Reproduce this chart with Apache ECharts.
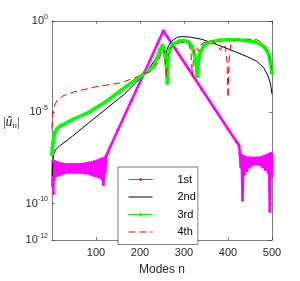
<!DOCTYPE html>
<html>
<head>
<meta charset="utf-8">
<script src="https://cdn.jsdelivr.net/npm/echarts@6/dist/echarts.min.js"></script>
<style>html,body{margin:0;padding:0;background:#fff}#c{width:300px;height:281px}</style>
</head>
<body>
<div id="c"></div>
<script>
// [mode n, |u_n|]
const first = [
 [1,1.0e-9],[2,2.2e-8],[3,3.5e-10],[4,2.0e-8],[5,2.0e-9],[7,2.0e-8],[9,3.2e-9],[12,1.8e-8],[15,3.5e-9],
 [18,1.6e-8],[21,4.0e-9],[24,1.5e-8],[27,4.5e-9],[30,1.4e-8],[33,5.0e-9],[36,1.4e-8],[39,5.0e-9],
 [42,1.4e-8],[45,5.0e-9],[48,1.4e-8],[51,5.0e-9],[54,1.4e-8],[57,5.0e-9],[60,1.4e-8],[63,5.0e-9],
 [66,1.4e-8],[69,5.0e-9],[72,1.5e-8],[75,4.5e-9],[78,1.6e-8],[81,4.5e-9],[84,1.7e-8],[87,4.0e-9],
 [90,1.8e-8],[93,3.5e-9],[96,2.0e-8],[99,3.2e-9],[102,2.2e-8],[105,2.8e-9],[108,2.5e-8],[111,2.5e-9],
 [113,2.8e-8],[115,2.2e-9],[117,1.1e-9],[119,3.2e-8],[121,5.0e-9],[123,4.0e-8],
 [125,5.0e-8],[150,1.1e-6],[180,4.1e-5],[210,1.5e-3],[240,5.9e-2],[253,0.29],
 [280,3.0e-2],[310,2.4e-3],[340,1.9e-4],[370,1.5e-5],[400,1.2e-6],[420,2.3e-7],[425,1.5e-7],
 [427,5.6e-8],[429,1.0e-8],[431,4.5e-8],[433,1.5e-10],[435,4.0e-8],[437,4.0e-9],[440,3.5e-8],
 [443,6.3e-9],[446,3.2e-8],[449,1.0e-8],[452,3.2e-8],[455,1.3e-8],[458,3.2e-8],[461,1.4e-8],
 [464,3.2e-8],[467,1.4e-8],[470,3.2e-8],[473,1.3e-8],[476,3.5e-8],[479,1.0e-8],[482,4.0e-8],
 [485,7.1e-9],[488,4.5e-8],[491,5.0e-9],[493,5.0e-8],[495,3.6e-11],[497,5.6e-8],[499,3.2e-9],[500,5.0e-8]
];
const second = [
 [1,3.2e-9],[2,2.0e-8],[4,5.0e-8],[8,8.9e-8],[17,1.4e-7],[47,5.0e-7],[98,5.0e-6],[165,1.0e-4],
 [216,1.7e-3],[235,7.9e-3],[245,2.5e-2],[251,5.0e-2],[254,2.5e-2],[257,9.3e-3],[260,2.0e-2],
 [265,4.5e-2],[272,7.9e-2],[285,0.13],[297,0.14],[315,0.13],[340,0.1],[370,5.6e-2],[400,3.0e-2],
 [444,1.1e-2],[465,6.3e-3],[481,2.8e-3],[490,1.1e-3],[495,5.0e-4],[498,2.2e-4],[500,1.0e-4]
];
const third = [
 [0,5.0e-8],[1,1.0e-7],[2,2.0e-7],[4,4.5e-7],[7,7.9e-7],[12,1.3e-6],[20,1.8e-6],[47,4.0e-6],
 [84,1.0e-5],[120,3.5e-5],[157,1.6e-4],[200,8.9e-4],[231,3.2e-3],[242,1.3e-2],[246,2.8e-2],
 [251,4.5e-2],[254,3.2e-2],[257,1.3e-2],[260,3.5e-3],[262,4.0e-4],[264,1.0e-2],[267,2.5e-2],
 [275,5.6e-2],[290,7.9e-2],[300,8.3e-2],[310,7.1e-2],[318,4.0e-2],[324,1.3e-2],[328,4.0e-3],
 [330,9.3e-4],[332,4.5e-3],[336,1.6e-2],[345,4.5e-2],[360,7.1e-2],[380,8.9e-2],[400,9.5e-2],
 [420,9.3e-2],[440,8.5e-2],[460,7.1e-2],[475,5.0e-2],[485,3.2e-2],[492,1.6e-2],[496,6.3e-3],[500,1.4e-3]
];
const fourth = [
 [0,1.3e-6],[1,4.0e-6],[3,1.3e-5],[6,2.5e-5],[12,4.5e-5],[25,7.9e-5],[50,1.3e-4],[100,2.5e-4],
 [157,4.1e-4],[200,1.0e-3],[224,1.7e-3],[240,5.0e-3],[248,1.6e-2],[252,3.2e-2],[256,1.6e-2],
 [258,3.2e-3],[260,9.3e-4],[262,6.3e-3],[266,2.5e-2],[275,5.0e-2],[290,6.3e-2],[305,7.1e-2],
 [312,5.0e-2],[316,1.6e-2],[319,8.9e-4],[322,1.3e-2],[326,4.0e-2],[333,2.2e-2],[340,5.6e-2],
 [350,7.1e-2],[365,7.9e-2],[375,5.0e-2],[383,2.5e-2],[388,5.0e-2],[394,4.0e-2],[398,5.0e-3],
 [400,6.3e-5],[402,5.0e-3],[406,5.0e-2],[415,8.9e-2],[430,0.1],[450,0.1],[465,9.5e-2],[478,6.3e-2],
 [487,3.2e-2],[493,1.6e-2],[497,6.3e-3],[500,2.2e-3]
];
const seriesNames = ['1st','2nd','3rd','4th'];
const seriesColors = ['#ff00ff','#000000','#00ff00','#ff0000'];
const xTicks = [100,200,300,400,500];
const yTicks = [1e-12,1e-10,1e-5,1];

const axisColor = '#262626';
const font = 'Liberation Sans';
const chart = echarts.init(document.getElementById('c'), null, {renderer:'canvas'});
const yFmt = v => '{b|10}{s|' + Math.round(Math.log10(v)) + '}';
const baseX = {
  type:'value', min:0, max:500, interval:100,
  axisLine:{show:true, onZero:false, lineStyle:{color:axisColor, width:0.6}},
  axisTick:{show:true, inside:true, length:3, customValues:xTicks, lineStyle:{color:axisColor, width:0.6}},
  splitLine:{show:false}
};
const baseY = {
  type:'log', logBase:10, min:1e-12, max:1,
  axisLine:{show:true, onZero:false, lineStyle:{color:axisColor, width:0.6}},
  axisTick:{show:true, inside:true, length:3, customValues:yTicks, lineStyle:{color:axisColor, width:0.6}},
  minorTick:{show:false}, splitLine:{show:false}, minorSplitLine:{show:false}
};
const hasMarker = [true, false, true, false];
const option = {
  animation:false,
  backgroundColor:'#fff',
  grid:{left:45, right:28, top:21, bottom:39},
  xAxis:[
    Object.assign({}, baseX, {position:'bottom',
      axisLabel:{customValues:xTicks, color:axisColor, fontSize:11, fontFamily:font, margin:7},
      name:'Modes n', nameLocation:'middle', nameGap:24,
      nameTextStyle:{color:axisColor, fontSize:12, fontFamily:font}}),
    Object.assign({}, baseX, {position:'top', axisLabel:{show:false}})
  ],
  yAxis:[
    Object.assign({}, baseY, {position:'left',
      axisLabel:{customValues:yTicks, formatter:yFmt, margin:4, color:axisColor, fontFamily:font,
        rich:{b:{fontSize:11, color:axisColor, fontFamily:font}, s:{fontSize:7, color:axisColor, fontFamily:font, padding:[0,0,8,0]}}},
      name:'|{u|û}{s|n}|', nameLocation:'middle', nameRotate:0, nameGap:25,
      nameTextStyle:{color:axisColor, fontSize:13, fontFamily:'Liberation Serif', padding:[0,0,16,0],
        rich:{u:{fontSize:14, fontStyle:'italic', fontFamily:'Liberation Serif', color:axisColor},
              s:{fontSize:9, fontStyle:'italic', fontFamily:'Liberation Serif', color:axisColor, padding:[7,0,0,0]}}}}),
    Object.assign({}, baseY, {position:'right', axisLabel:{show:false}})
  ],
  legend:{
    orient:'vertical', left:118, top:167, itemWidth:24, itemHeight:4, itemGap:6.5,
    padding:[7,2,7,10], borderColor:axisColor, borderWidth:0.6, backgroundColor:'#fff',
    textStyle:{fontSize:11, color:'#000', fontFamily:font, padding:[0,0,0,20]},
    lineStyle:{width:1},
    data:seriesNames.map((nm, i) => ({
      name:nm,
      itemStyle: hasMarker[i] ? {color:seriesColors[i], borderWidth:0} : {opacity:0}
    }))
  },
  series:[
    {name:seriesNames[0], type:'line', data:first, symbol:'circle', symbolSize:3, showSymbol:true,
     color:seriesColors[0], lineStyle:{color:seriesColors[0], width:2.6}, itemStyle:{color:seriesColors[0]}},
    {name:seriesNames[1], type:'line', data:second, symbol:'none',
     color:seriesColors[1], lineStyle:{color:seriesColors[1], width:1}},
    {name:seriesNames[2], type:'line', data:third, symbol:'circle', symbolSize:4, showSymbol:true,
     color:seriesColors[2], lineStyle:{color:seriesColors[2], width:3.5}, itemStyle:{color:seriesColors[2]}},
    {name:seriesNames[3], type:'line', data:fourth, symbol:'none',
     color:seriesColors[3], lineStyle:{color:seriesColors[3], width:1, type:[7,4]}}
  ]
};
chart.setOption(option);
</script>
</body>
</html>
